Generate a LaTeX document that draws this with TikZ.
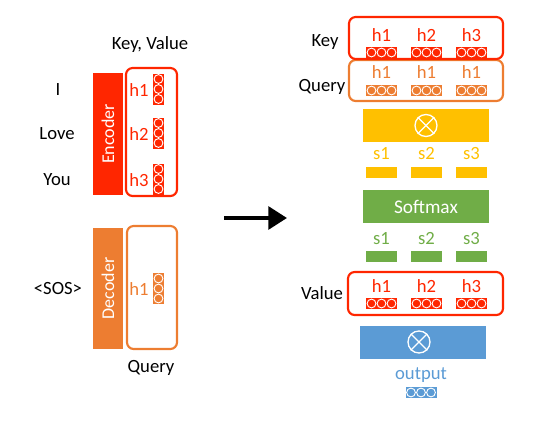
\documentclass[tikz,border=0pt]{standalone}
\usepackage{fontspec}
\setmainfont{Carlito}
\usepackage{tikz}
\usetikzlibrary{arrows.meta}

\definecolor{encred}{RGB}{255,38,0}
\definecolor{decorange}{RGB}{237,125,49}
\definecolor{scoreyellow}{RGB}{255,192,0}
\definecolor{softgreen}{RGB}{112,173,71}
\definecolor{outblue}{RGB}{91,155,213}

\tikzset{
  txt/.style={inner sep=0.75pt, font=\fontsize{14}{16}\selectfont},
  bar/.style={fill=#1, inner sep=0pt, text=white, font=\fontsize{13.5}{15}\selectfont},
  group/.style={draw=#1, line width=1.6pt, rounded corners=5pt, inner sep=0pt},
  prod/.style={circle, draw=white, line width=1pt, minimum size=16.5pt, inner sep=0pt},
  pics/vec/.style={code={
    \fill[#1] (-15.5,-5.5) rectangle (15.5,5.5);
    \foreach \cx in {-10,0,10}
      \draw[white, line width=0.7pt] (\cx,0) circle (4.4);
  }},
}

\begin{document}
\begin{tikzpicture}[x=0.75pt,y=0.75pt,yscale=-1,xscale=1]
\useasboundingbox (0,0) rectangle (540,429);

    % Encoder / Decoder bars
    \node [bar=encred, rotate=90, minimum width=91.5pt, minimum height=22.5pt] (encoder) at (108,134) {Encoder};
    \node [bar=decorange, rotate=90, minimum width=90.75pt, minimum height=22.5pt] (decoder) at (108,288.5) {Decoder};

    % Key, Value group and Query group (left)
    \node [group=encred, minimum width=38.25pt, minimum height=96pt] (kvgroup) at (151.5,132) {};
    \node [group=decorange, minimum width=37.5pt, minimum height=92.25pt] (qgroup) at (152,287.5) {};

    % Text Node
    \node [txt] (kvlabel) at (150,45) {Key, Value};
    \node [txt] (wI) at (58,90) {I};
    \node [txt] (wLove) at (57,134) {Love};
    \node [txt] (wYou) at (57,180) {You};
    \node [txt] (wSOS) at (58,289) {\textless SOS\textgreater};
    \node [txt] (qlabel) at (151,368) {Query};

    % encoder states
    \node [txt, text=encred] (eh1) at (139,90) {h1};
    \node [txt, text=encred] (eh2) at (139,134) {h2};
    \node [txt, text=encred] (eh3) at (139,180) {h3};
    \pic [rotate=90] (ev1) at (158.5,89) {vec=encred};
    \pic [rotate=90] (ev2) at (158.5,133) {vec=encred};
    \pic [rotate=90] (ev3) at (158.5,179) {vec=encred};
    % decoder state
    \node [txt, text=decorange] (dh1) at (139,289) {h1};
    \pic [rotate=90] (dv1) at (158.5,288.5) {vec=decorange};

    % Arrow
    \coordinate (arrowstart) at (224,218);
    \coordinate (arrowend) at (287,218);
    \draw [line width=3pt, -{Triangle[length=14pt,width=17pt]}] (arrowstart) -- (arrowend);

    % Key and Query rows (right)
    \node [group=decorange, minimum width=115.5pt, minimum height=30.75pt] (querybox) at (426,80.5) {};
    \node [group=encred, minimum width=115.5pt, minimum height=31.5pt] (keybox) at (426,38) {};
    \node [txt] (keylabel) at (325,42) {Key};
    \node [txt] (querylabel) at (322,87) {Query};
    \foreach \k/\xx in {1/381.5,2/426.5,3/471.5} {
      \node [txt, text=encred] (kh\k) at (\xx,35) {h\k};
      \pic (kv\k) at (\xx,52.5) {vec=encred};
      \node [txt, text=decorange] (qh\k) at (\xx,72) {h1};
      \pic (qv\k) at (\xx,90.5) {vec=decorange};
    }

    % dot product -> scores
    \node [bar=scoreyellow, minimum width=94.5pt, minimum height=24.75pt] (dotbar) at (426,125.5) {};
    \node [prod] (dot1) at (dotbar) {};
    \draw [white, line width=1pt] (dot1.north west) -- (dot1.south east) (dot1.north east) -- (dot1.south west);
    \foreach \k/\xx in {1/381.5,2/426.5,3/471.5} {
      \node [txt, text=scoreyellow] (s\k) at (\xx,154) {s\k};
      \fill [scoreyellow] (\xx-15.5,167) rectangle (\xx+15.5,178);
    }

    % Softmax
    \node [bar=softgreen, font=\fontsize{14.5}{16}\selectfont, minimum width=94.5pt, minimum height=24.75pt] (softmax) at (426,206.5) {Softmax};
    \foreach \k/\xx in {1/381.5,2/426.5,3/471.5} {
      \node [txt, text=softgreen] (a\k) at (\xx,239) {s\k};
      \fill [softgreen] (\xx-15.5,251) rectangle (\xx+15.5,262);
    }

    % Value row
    \node [group=encred, minimum width=116.25pt, minimum height=32.25pt] (valuebox) at (425.5,293.5) {};
    \node [txt] (valuelabel) at (322,293) {Value};
    \foreach \k/\xx in {1/381.5,2/426.5,3/471.5} {
      \node [txt, text=encred] (vh\k) at (\xx,286) {h\k};
      \pic (vv\k) at (\xx,303.5) {vec=encred};
    }

    % weighted sum -> output
    \node [bar=outblue, minimum width=94.5pt, minimum height=24.75pt] (sumbar) at (423,342.5) {};
    \node [prod] (dot2) at (419,342) {};
    \draw [white, line width=1pt] (dot2.north west) -- (dot2.south east) (dot2.north east) -- (dot2.south west);
    \node [txt, text=outblue] (outlabel) at (421,375) {output};
    \pic (outvec) at (421,392.5) {vec=outblue};

\end{tikzpicture}
\end{document}
